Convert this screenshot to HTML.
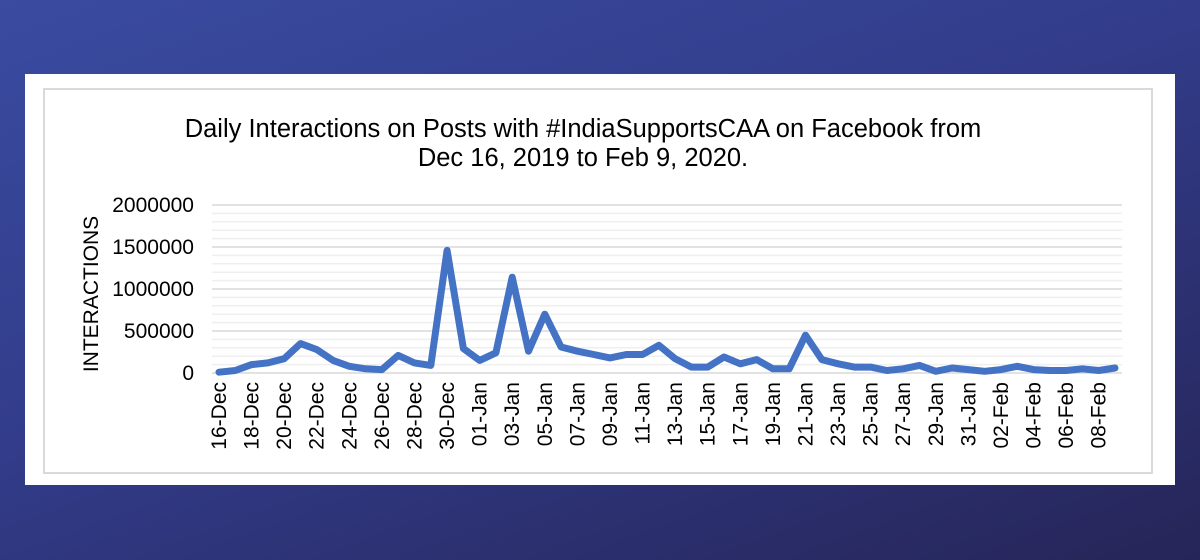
<!DOCTYPE html>
<html><head><meta charset="utf-8"><style>
html,body{margin:0;padding:0;}
body{width:1200px;height:560px;overflow:hidden;background:linear-gradient(160deg,#3a4ba0 0%,#323c8a 45%,#262558 100%);}
</style></head><body>
<svg width="1200" height="560" xmlns="http://www.w3.org/2000/svg" style="position:absolute;left:0;top:0;font-family:'Liberation Sans',Arial,sans-serif">
<rect x="25" y="74" width="1150" height="411" fill="#fff"/>
<rect x="44" y="89" width="1108" height="384" fill="#fff" stroke="#d9d9d9" stroke-width="2"/>
<text x="583" y="137" font-size="25.5" text-anchor="middle" fill="#000">Daily Interactions on Posts with #IndiaSupportsCAA on Facebook from</text>
<text x="583" y="166" font-size="25.5" text-anchor="middle" fill="#000">Dec 16, 2019 to Feb 9, 2020.</text>
<g id="grid"></g>
<g font-size="21" text-anchor="end" fill="#000">
<text x="194" y="212">2000000</text>
<text x="194" y="254">1500000</text>
<text x="194" y="296">1000000</text>
<text x="194" y="338">500000</text>
<text x="194" y="380">0</text>
</g>
<text transform="translate(98,294) rotate(-90)" font-size="21" text-anchor="middle">INTERACTIONS</text>
<g id="xl" font-size="21" text-anchor="end"></g>
<polyline id="ln" fill="none" stroke="#4472c4" stroke-width="7" stroke-linejoin="round" stroke-linecap="round"/>
</svg>
<script>
var ns="http://www.w3.org/2000/svg";
var g=document.getElementById('grid');
for(var i=0;i<=20;i++){var y=373-i*8.4;var l=document.createElementNS(ns,'line');
l.setAttribute('x1',212);l.setAttribute('x2',1122);l.setAttribute('y1',y);l.setAttribute('y2',y);
l.setAttribute('stroke',i%5==0?'#d9d9d9':'#efefef');l.setAttribute('stroke-width',1.5);g.appendChild(l);}
var v=[10,30,100,120,170,350,280,150,80,50,40,210,120,90,1460,290,150,240,1140,260,700,310,260,220,180,220,220,330,170,70,70,190,110,160,50,50,450,160,110,70,70,30,50,90,20,60,40,20,40,80,40,30,30,50,30,60];
var pts=[];var st=896/55;
for(var i=0;i<v.length;i++){pts.push((219+i*st).toFixed(1)+','+(373-v[i]*0.084).toFixed(1));}
document.getElementById('ln').setAttribute('points',pts.join(' '));
var xl=document.getElementById('xl');
var mn=['Jan','Feb','Mar','Apr','May','Jun','Jul','Aug','Sep','Oct','Nov','Dec'];
for(var i=0;i<56;i+=2){var dt=new Date(2019,11,16+i);var s=('0'+dt.getDate()).slice(-2)+'-'+mn[dt.getMonth()];
var x=219+i*st+7;var t=document.createElementNS(ns,'text');t.setAttribute('transform','translate('+x.toFixed(1)+',382) rotate(-90)');t.textContent=s;xl.appendChild(t);}
</script>
</body></html>
